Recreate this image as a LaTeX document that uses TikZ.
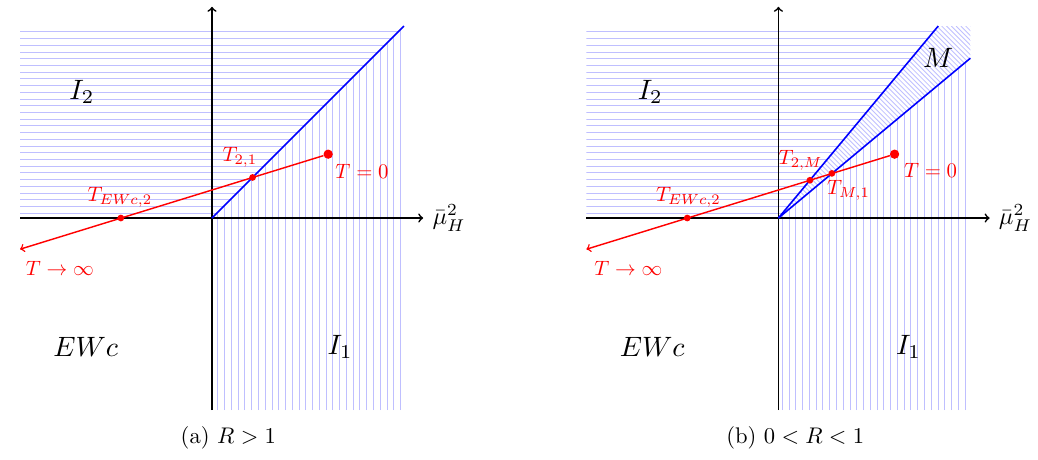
\documentclass[tikz,border=0pt]{standalone}
\usepackage{amsmath}
\usepackage{xcolor}
\usepackage{tikz}
\usetikzlibrary{arrows, positioning}

\begin{document}
\begin{tikzpicture}[>=to]
\tikzstyle{axis} = [->, line width=1pt, black]
\tikzstyle{border} = [blue, line width=0.95pt]
\tikzstyle{flow} = [red, line width=0.85pt]
\tikzstyle{hatch} = [blue!25, line width=0.5pt]
\tikzstyle{dot} = [circle, fill=red, inner sep=0pt, minimum size=4pt]
\tikzstyle{bigdot} = [circle, fill=red, inner sep=0pt, minimum size=5.5pt]
\tikzstyle{region} = [scale=1.66]
\tikzstyle{lbl} = [red, scale=1.23]
\tikzstyle{axlabel} = [scale=1.44]
\tikzstyle{caption} = [scale=1.34]
\useasboundingbox (-4.417,-5.021) rectangle (17.208,4.542);

\begin{scope}
\begin{scope}
\clip (-4,0) -- (-4,4) -- (4,4) -- (0,0) -- cycle;
\foreach \y in {0.1,0.24,...,3.95} \draw[hatch] (-4,\y) -- (4,\y);
\end{scope}
\begin{scope}
\clip (0,-4) -- (0,0) -- (4,4) -- (4,-4) -- cycle;
\foreach \x in {0.12,0.261,...,3.97} \draw[hatch] (\x,-4) -- (\x,4);
\end{scope}
\draw[axis] (-4,0) -- (4.4,0) node[right, axlabel] (xa) {$\bar{\mu}_H^2$};
\draw[axis] (0,-4) -- (0,4.4);
\draw[border] (0,0) -- (4,4);
\node[bigdot] (T0a) at (2.42,1.33) {};
\coordinate (Tinfa) at (-4,-0.65);
\draw[flow, ->] (T0a) -- (Tinfa);
\node[dot] (T21) at (0.845,0.845) {};
\node[dot] (TEWa) at (-1.9,0) {};
\node[lbl] (lT21) at (0.58,1.27) {$T_{2,1}$};
\node[lbl] (lT0a) at (3.125,0.98) {$T=0$};
\node[lbl] (lTEWa) at (-1.92,0.44) {$T_{EWc,2}$};
\node[lbl] (lTinfa) at (-3.17,-1.04) {$T\to\infty$};
\node[region] (I2a) at (-2.71,2.63) {$I_2$};
\node[region] (EWa) at (-2.63,-2.69) {$EWc$};
\node[region] (I1a) at (2.67,-2.69) {$I_1$};
\node[caption] (capa) at (0.34,-4.58) {(a) $R>1$};
\end{scope}

\begin{scope}[xshift=11.8cm]
\begin{scope}
\clip (-4,0) -- (-4,4) -- (3.33,4) -- (0,0) -- cycle;
\foreach \y in {0.1,0.24,...,3.95} \draw[hatch] (-4,\y) -- (4,\y);
\end{scope}
\begin{scope}
\clip (0,0) -- (3.33,4) -- (4,4) -- (4,3.33) -- cycle;
\foreach \c in {0,0.1,...,8.1} \draw[hatch] (\c-4,4) -- (\c+4,-4);
\end{scope}
\begin{scope}
\clip (0,-4) -- (0,0) -- (4,3.33) -- (4,-4) -- cycle;
\foreach \x in {0.08,0.221,...,3.97} \draw[hatch] (\x,-4) -- (\x,4);
\end{scope}
\draw[axis] (-4,0) -- (4.4,0) node[right, axlabel] (xb) {$\bar{\mu}_H^2$};
\draw[axis] (0,-4) -- (0,4.4);
\draw[border] (0,0) -- (3.33,4);
\draw[border] (0,0) -- (4,3.33);
\node[bigdot] (T0b) at (2.42,1.33) {};
\coordinate (Tinfb) at (-4,-0.65);
\draw[flow, ->] (T0b) -- (Tinfb);
\node[dot] (T2M) at (0.656,0.787) {};
\node[dot] (TM1) at (1.114,0.93) {};
\node[dot] (TEWb) at (-1.9,0) {};
\node[lbl] (lT2M) at (0.46,1.21) {$T_{2,M}$};
\node[lbl] (lTM1) at (1.46,0.58) {$T_{M,1}$};
\node[lbl] (lT0b) at (3.17,1.0) {$T=0$};
\node[lbl] (lTEWb) at (-1.875,0.44) {$T_{EWc,2}$};
\node[lbl] (lTinfb) at (-3.125,-1.04) {$T\to\infty$};
\node[region] (I2b) at (-2.67,2.63) {$I_2$};
\node[region] (EWb) at (-2.63,-2.69) {$EWc$};
\node[region] (I1b) at (2.71,-2.69) {$I_1$};
\node[region] (Mb) at (3.33,3.33) {$M$};
\node[caption] (capb) at (0.35,-4.58) {(b) $0<R<1$};
\end{scope}
\end{tikzpicture}
\end{document}
